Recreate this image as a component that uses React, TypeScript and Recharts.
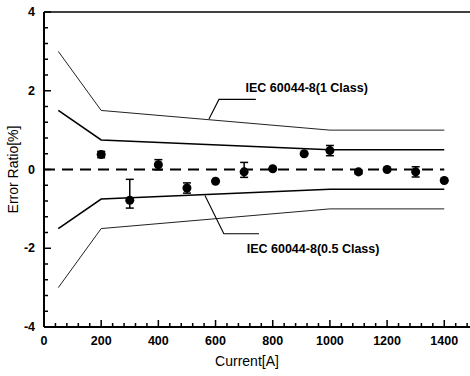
import {
  ComposedChart,
  XAxis,
  YAxis,
  Line,
  Scatter,
  ErrorBar,
  ReferenceLine,
  ReferenceDot,
} from 'recharts';

// tick positions (major every 200 A / 2 %, minor in between)
const currentTicks = [
  0, 40, 80, 120, 160, 200, 240, 280, 320, 360, 400, 440, 480, 520, 560, 600, 640, 680, 720,
  760, 800, 840, 880, 920, 960, 1000, 1040, 1080, 1120, 1160, 1200, 1240, 1280, 1320, 1360,
  1400, 1440, 1480,
];
const ratioTicks = [
  -4, -3.6, -3.2, -2.8, -2.4, -2, -1.6, -1.2, -0.8, -0.4, 0, 0.4, 0.8, 1.2, 1.6, 2, 2.4, 2.8,
  3.2, 3.6, 4,
];

// IEC 60044-8 limit curves
const limitCurrent = [50, 200, 1000, 1400];
const class1Upper = [3, 1.5, 1.0, 1.0];
const class05Upper = [1.5, 0.75, 0.5, 0.5];
const class05Lower = [-1.5, -0.75, -0.5, -0.5];
const class1Lower = [-3, -1.5, -1.0, -1.0];

const zeroCurrent = [0, 1400];
const zeroRatio = [0, 0];

// measured error ratio
const measCurrent = [200, 300, 400, 500, 600, 700, 800, 910, 1000, 1100, 1200, 1300, 1400];
const measRatio = [0.38, -0.78, 0.12, -0.47, -0.3, -0.06, 0.02, 0.4, 0.48, -0.06, 0.0, -0.06, -0.28];
const errLow = [0.08, 0.2, 0.13, 0.13, 0, 0.14, 0, 0, 0.13, 0.05, 0, 0.13, 0];
const errHigh = [0.08, 0.53, 0.13, 0.13, 0, 0.24, 0, 0, 0.13, 0.05, 0, 0.13, 0];

// annotation leaders
const lead1Current = [577, 612, 741];
const lead1Ratio = [1.28, 1.78, 1.78];
const lead2Current = [563, 629, 752];
const lead2Ratio = [-0.66, -1.63, -1.63];

const pts = (xs: number[], ys: number[]) => xs.map((x, i) => ({ x, y: ys[i] }));

const measured = measCurrent.map((x, i) => ({ x, y: measRatio[i], err: [errLow[i], errHigh[i]] }));

const FONT = '"Liberation Sans", Arial, sans-serif';

// inward ticks, drawn from the axis line towards the plot
function CurrentTick(props: any) {
  const { x, y, payload } = props;
  const v = payload.value;
  const major = v % 200 === 0;
  const len = major ? 7 : 4;
  return (
    <g>
      <rect x={x - 0.75} y={y - len} width={1.5} height={len} fill="#000" />
      {major && (
        <text x={x} y={y + 18} textAnchor="middle" fontFamily={FONT} fontWeight="bold" fontSize={12.5} fill="#000">
          {v}
        </text>
      )}
    </g>
  );
}

function RatioTick(props: any) {
  const { x, y, payload } = props;
  const v = payload.value;
  const major = Math.abs(v % 2) < 1e-9;
  return (
    <g>
      <rect x={x} y={y - 0.75} width={major ? 7 : 4} height={1.5} fill="#000" />
      {major && (
        <text x={x - 9} y={y + 4} textAnchor="end" fontFamily={FONT} fontWeight="bold" fontSize={12.5} fill="#000">
          {v}
        </text>
      )}
    </g>
  );
}

const noteLabel = (text: string) => ({ viewBox }: any) => (
  <text x={viewBox.x + 1} y={viewBox.y + 5} fontFamily={FONT} fontWeight="bold" fontSize={12.5} fill="#000">
    {text}
  </text>
);

export default function App() {
  return (
    <div style={{ position: 'absolute', left: 0, top: 0, background: '#fff' }}>
      <ComposedChart width={470} height={376} margin={{ top: 12, right: 0, left: 4, bottom: 19 }}>
        <XAxis
          type="number"
          dataKey="x"
          domain={[0, 1490]}
          ticks={currentTicks}
          interval={0}
          tickSize={0}
          tickMargin={0}
          tickLine={false}
          tick={(p: any) => <CurrentTick {...p} />}
          axisLine={{ stroke: '#000', strokeWidth: 2 }}
          height={30}
          label={{
            content: ({ viewBox }: any) => (
              <text
                x={viewBox.x + viewBox.width / 2 - 10}
                y={viewBox.y + 39}
                textAnchor="middle"
                fontFamily={FONT}
                fontSize={14}
                fill="#000"
              >
                Current[A]
              </text>
            ),
          }}
        />
        <YAxis
          type="number"
          dataKey="y"
          domain={[-4, 4]}
          ticks={ratioTicks}
          interval={0}
          tickSize={0}
          tickMargin={0}
          tickLine={false}
          tick={(p: any) => <RatioTick {...p} />}
          axisLine={{ stroke: '#000', strokeWidth: 2 }}
          width={40}
          label={{
            content: ({ viewBox }: any) => {
              const cx = 13;
              const cy = viewBox.y + viewBox.height / 2;
              return (
                <text
                  x={cx}
                  y={cy}
                  transform={`rotate(-90, ${cx}, ${cy})`}
                  textAnchor="middle"
                  dominantBaseline="central"
                  fontFamily={FONT}
                  fontSize={14}
                  fill="#000"
                >
                  Error Ratio[%]
                </text>
              );
            },
          }}
        />
        <ReferenceLine y={4} stroke="#000" strokeWidth={1.5} />

        <Line data={pts(limitCurrent, class1Upper)} dataKey="y" stroke="#222" strokeWidth={1} dot={false} isAnimationActive={false} />
        <Line data={pts(limitCurrent, class05Upper)} dataKey="y" stroke="#000" strokeWidth={1.6} dot={false} isAnimationActive={false} />
        <Line data={pts(limitCurrent, class05Lower)} dataKey="y" stroke="#000" strokeWidth={1.6} dot={false} isAnimationActive={false} />
        <Line data={pts(limitCurrent, class1Lower)} dataKey="y" stroke="#222" strokeWidth={1} dot={false} isAnimationActive={false} />
        <Line
          data={pts(zeroCurrent, zeroRatio)}
          dataKey="y"
          stroke="#000"
          strokeWidth={2}
          strokeDasharray="11 7"
          dot={false}
          isAnimationActive={false}
        />
        <Line data={pts(lead1Current, lead1Ratio)} dataKey="y" stroke="#000" strokeWidth={1.1} dot={false} isAnimationActive={false} />
        <Line data={pts(lead2Current, lead2Ratio)} dataKey="y" stroke="#000" strokeWidth={1.1} dot={false} isAnimationActive={false} />

        <Scatter data={measured} dataKey="y" fill="#000" isAnimationActive={false}>
          <ErrorBar dataKey="err" direction="y" width={4} stroke="#000" strokeWidth={1.5} isAnimationActive={false} />
        </Scatter>

        <ReferenceDot x={705} y={2.08} r={1} fill="none" stroke="none" label={{ content: noteLabel('IEC 60044-8(1 Class)') }} />
        <ReferenceDot x={709} y={-2.03} r={1} fill="none" stroke="none" label={{ content: noteLabel('IEC 60044-8(0.5 Class)') }} />
      </ComposedChart>
    </div>
  );
}
